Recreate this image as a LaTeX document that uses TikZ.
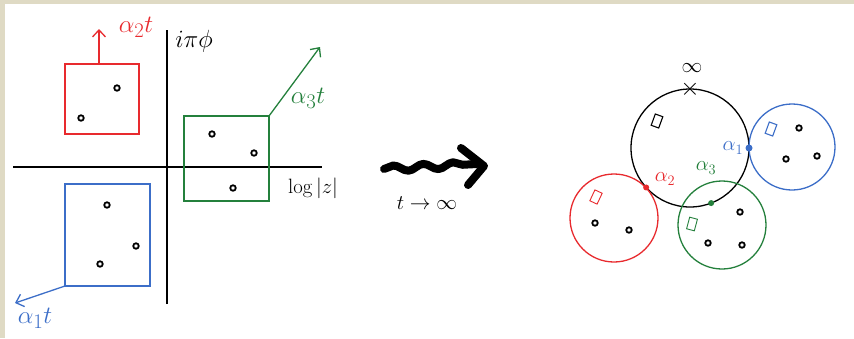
\documentclass[tikz,border=0pt]{standalone}
\usepackage{amsmath}
\usepackage{amssymb}
\usepackage{tikz}
\usetikzlibrary{arrows.meta}
\usetikzlibrary{decorations.pathmorphing}
\usepackage{xcolor}
\definecolor{hred}{RGB}{232,42,46}
\definecolor{hgreen}{RGB}{36,128,60}
\definecolor{hblue}{RGB}{60,110,200}
\definecolor{paper}{RGB}{223,218,196}

\begin{document}
\begin{tikzpicture}[x=1pt,y=-1pt,line width=1.3pt,
    box/.style={draw,rectangle,inner sep=0pt,outer sep=0pt},
    disc/.style={draw,circle,inner sep=0pt,outer sep=0pt},
    pole/.style={draw=black,circle,line width=1.8pt,inner sep=0pt,minimum size=5.5pt},
    tiny/.style={draw,rectangle,line width=1.1pt,inner sep=0pt,minimum width=8pt,minimum height=12pt},
    touch/.style={circle,fill,inner sep=0pt,minimum size=7pt}]

        %------------------
        % 背景
        %------------------
        \fill[paper] (0,0) rectangle (854,338);
        \fill[white] (5,4) rectangle (854,338);
        \useasboundingbox (0,0) rectangle (854,338);

        %------------------
        % 軸
        %------------------
        \coordinate (xl) at (13,167);
        \coordinate (xr) at (322,167);
        \coordinate (yb) at (167,304);
        \coordinate (yt) at (167,30);
        \draw (xl)--(xr);
        \draw (yb)--(yt);
        \node (imlab) at (194,41) {\Huge$i\pi\phi$};
        \node (relab) at (313,188) {\huge$\log|z|$};

        %------------------
        % 箱
        %------------------
        \node[box,draw=hred,minimum width=74pt,minimum height=70pt] (redbox) at (102,99) {};
        \node[box,draw=hgreen,minimum width=85pt,minimum height=85pt] (greenbox) at (226.5,158.5) {};
        \node[box,draw=hblue,minimum width=85pt,minimum height=102pt] (bluebox) at (107.5,235) {};

        % 矢印
        \coordinate (a2) at (99,29);
        \coordinate (a3) at (320,47);
        \coordinate (a1) at (15,303);
        \draw[->,>={Straight Barb[length=7pt,width=13pt]},hred] (redbox.north -| a2)--(a2);
        \draw[->,>={Straight Barb[length=7pt,width=13pt]},hgreen] (greenbox.north east)--(a3);
        \draw[->,>={Straight Barb[length=7pt,width=13pt]},hblue] (bluebox.south west)--(a1);
        \node[hred] (a2lab) at (136,27) {\Huge$\alpha_2t$};
        \node[hgreen] (a3lab) at (308,98) {\Huge$\alpha_3t$};
        \node[hblue] (a1lab) at (35,318) {\Huge$\alpha_1t$};

        % 零点
        \node[pole] (r1) at (117,88) {};
        \node[pole] (r2) at (81,118) {};
        \node[pole] (g1) at (212,134) {};
        \node[pole] (g2) at (254,153) {};
        \node[pole] (g3) at (233,188) {};
        \node[pole] (b1) at (107,205) {};
        \node[pole] (b2) at (136,246) {};
        \node[pole] (b3) at (100,264) {};

        %------------------
        % t -> oo
        %------------------
        \coordinate (w0) at (384,169);
        \coordinate (w1) at (477,164);
        \coordinate (h1) at (461,148);
        \coordinate (h2) at (484,166);
        \coordinate (h3) at (468,185);
        \draw[line width=8pt,line cap=round,line join=round,
              decorate,decoration={snake,amplitude=3pt,segment length=30pt,post length=6pt}] (w0)--(w1);
        \draw[line width=8pt,line cap=round,line join=round] (h1)--(h2)--(h3);
        \node (tlab) at (427,203) {\huge$t\to\infty$};

        %------------------
        % 円
        %------------------
        \node[disc,minimum size=118pt] (big) at (690,148) {};
        \node[disc,draw=hblue,minimum size=86pt] (bluedisc) at (792,147) {};
        \node[disc,draw=hred,minimum size=88pt] (reddisc) at (614,218) {};
        \node[disc,draw=hgreen,minimum size=88pt] (greendisc) at (722,225) {};

        % 接点
        \node[touch,hblue] (p1) at (big.east) {};
        \node[touch,hred,minimum size=6pt] (p2) at (big.222) {};
        \node[touch,hgreen,minimum size=6pt] (p3) at (big.291) {};
        \node[hblue,left,inner sep=1pt] (p1lab) at (p1.west) {\huge$\alpha_1$};
        \node[hred] (p2lab) at (665,179) {\huge$\alpha_2$};
        \node[hgreen] (p3lab) at (706,168) {\huge$\alpha_3$};

        % 無限遠
        \node[inner sep=0pt] (cross) at (big.north) {\Huge$\times$};
        \node (inf) at (692,68) {\huge$\infty$};

        % 小箱
        \node[tiny,rotate=-20] (bigbox) at (657,121) {};
        \node[tiny,hblue,rotate=-20] (bluetiny) at (771,129) {};
        \node[tiny,hred,rotate=-25,line width=0.9pt] (redtiny) at (596,197) {};
        \node[tiny,hgreen,rotate=-15,line width=0.9pt] (greentiny) at (692,224) {};

        % 零点
        \node[pole] (q1) at (799,128) {};
        \node[pole] (q2) at (786,159) {};
        \node[pole] (q3) at (817,156) {};
        \node[pole] (q4) at (595,223) {};
        \node[pole] (q5) at (629,230) {};
        \node[pole] (q6) at (740,212) {};
        \node[pole] (q7) at (708,243) {};
        \node[pole] (q8) at (742,245) {};
\end{tikzpicture}
\end{document}
